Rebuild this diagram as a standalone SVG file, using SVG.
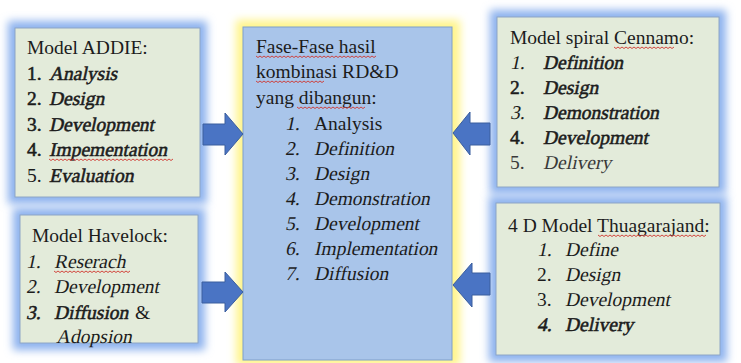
<svg xmlns="http://www.w3.org/2000/svg" width="741" height="363" viewBox="0 0 741 363">
  <defs>
    <filter id="glow" x="-20%" y="-20%" width="140%" height="140%">
      <feGaussianBlur stdDeviation="4"/>
    </filter>
    <style>
      text { font-family: "Liberation Serif", serif; font-size: 19.5px; fill: #1c1c1c; }
      /* heavier strokes stand in for the bold weight */
      .b { stroke: #1c1c1c; stroke-width: 0.55px; }
      .soft { fill: #3a3a3a; }
      .box { fill: #E3EBDA; stroke: #8EA6C6; stroke-width: 1; }
      .halo-blue { fill: #8DB2EE; filter: url(#glow); }
      .halo-yellow { fill: #FFF48A; filter: url(#glow); }
      .center { fill: #A9C5EA; stroke: #7F9FCB; stroke-width: 1; }
      .arrow { fill: #4A74C4; stroke: #3A5E9E; stroke-width: 1; }
      .squiggle { fill: none; stroke: #D0342C; stroke-width: 0.9; }
    </style>
    <path id="wave" d="M0 0 l2 1.5 l2 -1.5 l2 1.5 l2 -1.5 l2 1.5 l2 -1.5 l2 1.5 l2 -1.5 l2 1.5 l2 -1.5 l2 1.5 l2 -1.5 l2 1.5 l2 -1.5 l2 1.5 l2 -1.5 l2 1.5 l2 -1.5 l2 1.5 l2 -1.5 l2 1.5 l2 -1.5 l2 1.5 l2 -1.5 l2 1.5 l2 -1.5 l2 1.5 l2 -1.5 l2 1.5 l2 -1.5 l2 1.5 l2 -1.5 l2 1.5 l2 -1.5 l2 1.5 l2 -1.5 l2 1.5 l2 -1.5 l2 1.5 l2 -1.5 l2 1.5 l2 -1.5 l2 1.5 l2 -1.5 l2 1.5 l2 -1.5 l2 1.5 l2 -1.5 l2 1.5 l2 -1.5 l2 1.5 l2 -1.5 l2 1.5 l2 -1.5 l2 1.5 l2 -1.5 l2 1.5 l2 -1.5 l2 1.5 l2 -1.5 l2 1.5 l2 -1.5 l2 1.5 l2 -1.5"/>
  </defs>

  <rect width="741" height="363" fill="#ffffff"/>

  <!-- Central result box -->
  <g id="node-hasil">
    <rect class="halo-yellow" x="236" y="20" width="224" height="346"/>
    <rect class="center" x="243" y="27" width="209" height="333"/>
    <text x="256" y="53">Fase-Fase hasil</text>
    <text x="256" y="78">kombinasi RD&amp;D</text>
    <text x="256" y="104">yang dibangun:</text>
    <text transform="translate(285 130) skewX(-12)">1.</text><text x="314" y="130">Analysis</text>
    <text transform="translate(285 155) skewX(-12)">2.</text><text transform="translate(314 155) skewX(-12)">Definition</text>
    <text transform="translate(285 180) skewX(-12)">3.</text><text transform="translate(314 180) skewX(-12)">Design</text>
    <text transform="translate(285 205) skewX(-12)">4.</text><text transform="translate(314 205) skewX(-12)">Demonstration</text>
    <text transform="translate(285 230) skewX(-12)">5.</text><text transform="translate(314 230) skewX(-12)">Development</text>
    <text transform="translate(285 255) skewX(-12)">6.</text><text transform="translate(314 255) skewX(-12)">Implementation</text>
    <text transform="translate(285 280) skewX(-12)">7.</text><text transform="translate(314 280) skewX(-12)">Diffusion</text>
    <svg x="256" y="55" width="120" height="4" overflow="hidden"><use href="#wave" class="squiggle" y="1"/></svg>
    <svg x="256" y="80" width="68" height="4" overflow="hidden"><use href="#wave" class="squiggle" y="1"/></svg>
    <svg x="297" y="106" width="68" height="4" overflow="hidden"><use href="#wave" class="squiggle" y="1"/></svg>
  </g>

  <!-- ADDIE model -->
  <g id="node-addie">
    <rect class="halo-blue" x="8" y="21" width="199" height="183"/>
    <rect class="box" x="15" y="28" width="185" height="169"/>
    <text x="27" y="54">Model ADDIE:</text>
    <text class="b" x="27" y="80">1.</text><text class="b" transform="translate(49 80) skewX(-12)">Analysis</text>
    <text class="b" x="27" y="105">2.</text><text class="b" transform="translate(49 105) skewX(-12)">Design</text>
    <text class="b" x="27" y="131">3.</text><text class="b" transform="translate(49 131) skewX(-12)">Development</text>
    <text class="b" x="27" y="156">4.</text><text class="b" transform="translate(49 156) skewX(-12)">Impementation</text>
    <text x="27" y="182">5.</text><text class="b" transform="translate(49 182) skewX(-12)">Evaluation</text>
    <svg x="49" y="158" width="124" height="4" overflow="hidden"><use href="#wave" class="squiggle" y="1"/></svg>
  </g>

  <!-- Havelock model -->
  <g id="node-havelock">
    <rect class="halo-blue" x="13" y="208" width="192" height="142"/>
    <rect class="box" x="20" y="215" width="178" height="128"/>
    <text x="32" y="242">Model Havelock:</text>
    <text transform="translate(26 268) skewX(-12)">1.</text><text transform="translate(54 268) skewX(-12)">Reserach</text>
    <text transform="translate(26 293) skewX(-12)">2.</text><text transform="translate(54 293) skewX(-12)">Development</text>
    <text class="b" transform="translate(26 319) skewX(-12)">3.</text><text class="b" transform="translate(54 319) skewX(-12)">Diffusion</text><text x="135" y="319">&amp;</text>
    <text transform="translate(56 343) skewX(-12)">Adopsion</text>
    <svg x="54" y="270" width="76" height="4" overflow="hidden"><use href="#wave" class="squiggle" y="1"/></svg>
  </g>

  <!-- Cennamo spiral model -->
  <g id="node-cennamo">
    <rect class="halo-blue" x="490" y="10" width="236" height="184"/>
    <rect class="box" x="497" y="17" width="222" height="170"/>
    <text x="510" y="44">Model spiral Cennamo:</text>
    <text transform="translate(510 69) skewX(-12)">1.</text><text class="b" transform="translate(543 69) skewX(-12)">Definition</text>
    <text class="b" x="510" y="94">2.</text><text class="b" transform="translate(543 94) skewX(-12)">Design</text>
    <text transform="translate(510 119) skewX(-12)">3.</text><text class="b" transform="translate(543 119) skewX(-12)">Demonstration</text>
    <text class="b" x="510" y="144">4.</text><text class="b" transform="translate(543 144) skewX(-12)">Development</text>
    <text class="soft" x="510" y="169">5.</text><text class="soft" transform="translate(543 169) skewX(-12)">Delivery</text>
    <svg x="614" y="46" width="60" height="4" overflow="hidden"><use href="#wave" class="squiggle" y="1"/></svg>
  </g>

  <!-- Thuagarajand 4D model -->
  <g id="node-4d">
    <rect class="halo-blue" x="489" y="196" width="238" height="166"/>
    <rect class="box" x="496" y="203" width="224" height="152"/>
    <text x="508" y="232">4 D Model Thuagarajand:</text>
    <text transform="translate(537 256) skewX(-12)">1.</text><text transform="translate(565 256) skewX(-12)">Define</text>
    <text x="537" y="281">2.</text><text transform="translate(565 281) skewX(-12)">Design</text>
    <text x="537" y="306">3.</text><text transform="translate(565 306) skewX(-12)">Development</text>
    <text class="b" transform="translate(537 331) skewX(-12)">4.</text><text class="b" transform="translate(565 331) skewX(-12)">Delivery</text>
    <svg x="598" y="234" width="108" height="4" overflow="hidden"><use href="#wave" class="squiggle" y="1"/></svg>
  </g>

  <!-- Block arrows feeding the central box -->
  <g id="connectors">
    <polygon class="arrow" points="203,124 225,124 225,113 243,134 225,155 225,145 203,145"/>
    <polygon class="arrow" points="202,282 225,282 225,272 243,292 225,312 225,303 202,303"/>
    <polygon class="arrow" points="490,123 470,123 470,112 453,133 470,155 470,145 490,145"/>
    <polygon class="arrow" points="490,273 472,273 472,263 453,285 472,307 472,295 490,295"/>
  </g>
</svg>
